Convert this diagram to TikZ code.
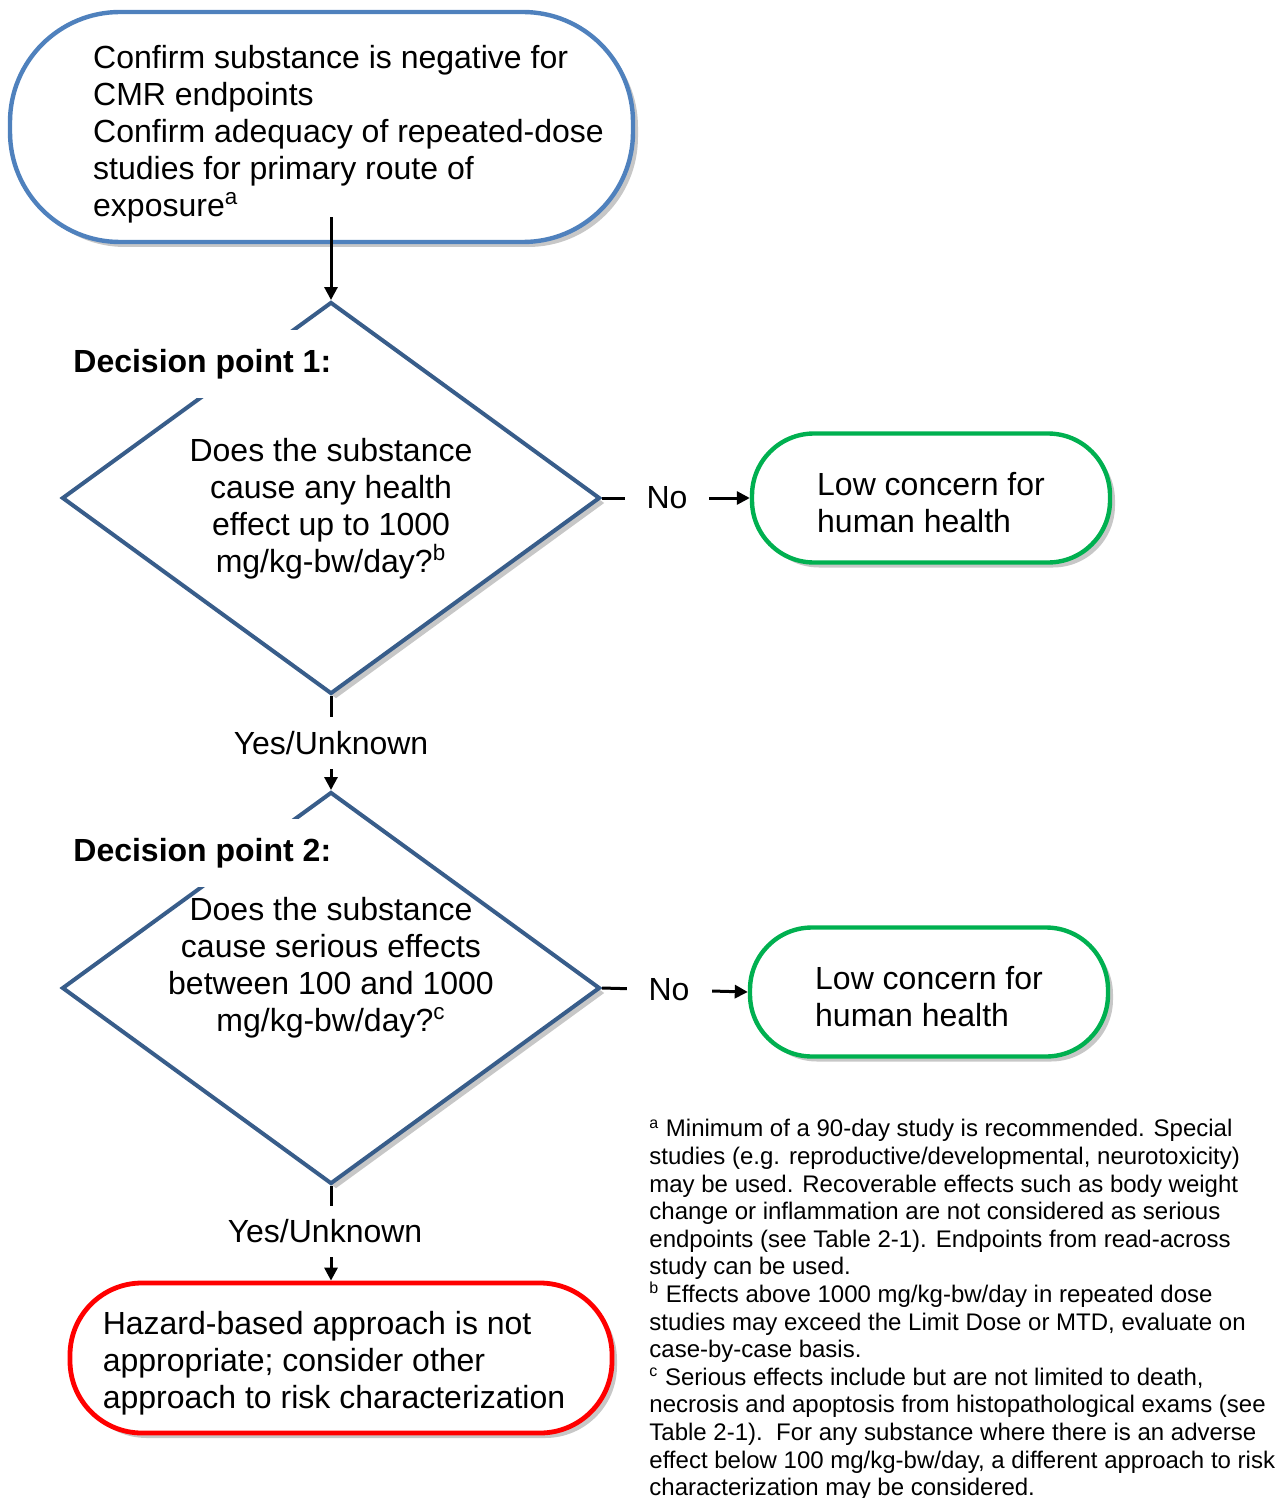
\documentclass[tikz,border=0pt]{standalone}
\usepackage{fontspec}
\setmainfont{Liberation Sans}
\usetikzlibrary{shapes, arrows.meta, shadows}
\definecolor{startblue}{RGB}{79,129,189}
\definecolor{decblue}{RGB}{56,93,138}
\definecolor{lowgreen}{RGB}{0,176,80}
\definecolor{stopred}{RGB}{255,0,0}
\newcommand{\mainsize}{\fontsize{16}{18.5}\selectfont}
\tikzstyle{boxshadow} = [drop shadow={shadow xshift=2.5pt, shadow yshift=-2.5pt, fill=black, opacity=0.22}]
\tikzstyle{startbox} = [rectangle, rounded corners=55pt, minimum width=311.5pt, minimum height=115pt, draw=startblue, line width=2.2pt, fill=white, boxshadow]
\tikzstyle{decision} = [diamond, minimum width=269pt, minimum height=196pt, inner sep=0pt, draw=decblue, line width=2pt, fill=white, boxshadow]
\tikzstyle{lowbox} = [rectangle, rounded corners=31pt, minimum width=179pt, minimum height=64.5pt, draw=lowgreen, line width=2.2pt, fill=white, align=left, text height=34.5pt, boxshadow]
\tikzstyle{stopbox} = [rectangle, rounded corners=36pt, minimum width=271pt, minimum height=75pt, draw=stopred, line width=2.4pt, fill=white, align=left, text height=53.5pt, boxshadow]
\tikzstyle{question} = [align=center, inner sep=0pt]
\tikzstyle{dplabel} = [fill=white, inner xsep=1pt, inner ysep=9.5pt, font=\mainsize\bfseries]
\tikzstyle{answer} = [fill=white, inner xsep=11pt, inner ysep=7pt]
\tikzstyle{notes} = [align=left, inner sep=0pt, font=\fontsize{12}{13.8}\selectfont]
\tikzstyle{edge} = [line width=1.5pt, ->, >={Triangle[length=6.5pt, width=6.5pt]}]

\begin{document}
\begin{tikzpicture}[x=0.5pt, y=-0.5pt, font=\mainsize]
\useasboundingbox (0,0) rectangle (1282,1498);

\node (start) [startbox] at (321.5,127) {};
\node (starttext) [align=left, inner sep=0pt, anchor=west, xshift=42.5pt, yshift=-3.75pt] at (start.west) {Confirm substance is negative for\\CMR endpoints\\Confirm adequacy of repeated-dose\\studies for primary route of\\exposure\textsuperscript{a}};

\node (d1) [decision, below of=start, node distance=185.5pt, xshift=4.75pt] {};
\node (dp1) [dplabel, anchor=west, xshift=5.5pt, yshift=67pt] at (d1.west) {Decision point 1:};
\node (q1) [question, yshift=-5.5pt] at (d1) {Does the substance\\cause any health\\effect up to 1000\\mg/kg-bw/day?\textsuperscript{b}};
\node (low1) [lowbox, right of=d1, node distance=300pt] {Low concern for\\human health};

\node (d2) [decision, below of=d1, node distance=245pt] {};
\node (dp2) [dplabel, anchor=west, xshift=5.5pt, yshift=67.5pt] at (d2.west) {Decision point 2:};
\node (q2) [question, yshift=10pt] at (d2) {Does the substance\\cause serious effects\\between 100 and 1000\\mg/kg-bw/day?\textsuperscript{c}};
\node (low2) [lowbox, right of=d2, node distance=299pt, yshift=-2pt] {Low concern for\\human health};

\node (hazard) [stopbox, below of=d2, node distance=185pt, xshift=5pt] {Hazard-based approach is not\\appropriate; consider other\\approach to risk characterization\hspace*{7pt}};

\node (notes) [notes, anchor=north west] at (649,1119) {\textsuperscript{a} Minimum of a 90-day study is recommended. Special\\studies (e.g. reproductive/developmental, neurotoxicity)\\may be used. Recoverable effects such as body weight\\change or inflammation are not considered as serious\\endpoints (see Table 2-1). Endpoints from read-across\\study can be used.\\\textsuperscript{b} Effects above 1000 mg/kg-bw/day in repeated dose\\studies may exceed the Limit Dose or MTD, evaluate on\\case-by-case basis.\\\textsuperscript{c} Serious effects include but are not limited to death,\\necrosis and apoptosis from histopathological exams (see\\Table 2-1).\ \ For any substance where there is an adverse\\effect below 100 mg/kg-bw/day, a different approach to risk\\characterization may be considered.};

\draw [edge] ([yshift=13.5pt]start.south -| d1.north) -- (d1.north);
\draw [edge] (d1.east) -- node[answer, pos=0.44]{No} (low1.west);
\draw [edge] (d1.south) -- node[answer]{Yes/Unknown} (d2.north);
\draw [edge] (d2.east) -- node[answer, pos=0.46]{No} (low2.west);
\draw [edge] (d2.south) -- node[answer, pos=0.48, xshift=-3pt]{Yes/Unknown} (d2.south |- hazard.north);

\end{tikzpicture}
\end{document}
